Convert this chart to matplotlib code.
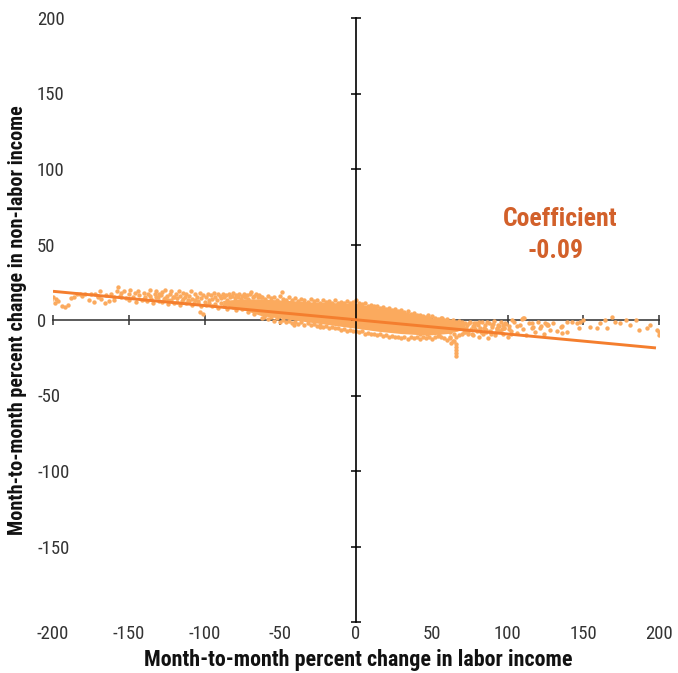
import matplotlib
matplotlib.use("Agg")
import matplotlib.pyplot as plt
from matplotlib import font_manager
import numpy as np

# pick a narrow sans if there is one
names = {f.name for f in font_manager.fontManager.ttflist}
for fam in ['Liberation Sans Narrow', 'Roboto Condensed', 'Open Sans', 'DejaVu Sans']:
    if fam in names:
        break
plt.rcParams['font.family'] = [fam, 'DejaVu Sans']
plt.rcParams['axes.unicode_minus'] = False

'''data read off the picture'''
fit_x = [-200, 198]
fit_y = [19.0, -18.5]

# solid core of the cloud
core_x = [-88, -75, -63, -45, -30, -15, 0, 15, 30, 47, 60, 72]
core_hi = [13, 14, 14, 13, 12, 11.5, 11, 8, 6, 2, 0, -2]
core_lo = [10, 7, 3, 0.5, -1.5, -3.5, -5.5, -7.5, -9, -10, -9, -6]

# sparse left end
left_x = [-201, -200, -199, -198, -197, -194, -192, -190, -188, -186, -184, -182, -181, -179,
          -176, -175, -173, -172, -170, -169, -168, -166, -165, -163, -162, -160, -158, -157,
          -156, -155, -153, -152, -150, -149, -147, -146, -144, -143, -141, -140, -139, -137,
          -136, -135, -133, -132, -131, -130, -129, -128, -127, -126, -125, -124, -123, -122,
          -121, -120, -119, -118, -117, -116, -115, -114, -113, -112, -111, -110, -109, -108,
          -107, -106, -105, -104, -103, -102, -101, -100, -103, -101,
          -140, -138, -136, -134, -132, -130, -128, -126, -124, -122, -120, -118, -116, -114,
          -112, -110, -108, -106, -104, -102, -145, -150, -155, -160, -170]
left_y = [13, 15, 11.5, 14, 12.5, 9.5, 8.5, 10, 14.5, 15, 17, 17.5, 16, 17.5,
          13.5, 17, 12, 17.5, 15, 19, 14, 11.5, 16.5, 12.5, 17, 15.5, 19.5, 22,
          16, 18, 19, 14.5, 17.5, 20, 15, 18, 19.5, 16.5, 13, 18, 15.5, 17,
          20, 14, 17.5, 19, 15, 12.5, 16.5, 18.5, 14, 20, 16, 13.5, 17.5, 19,
          15, 11.5, 17, 14.5, 19.5, 16, 12.5, 18, 15.5, 17.5, 13, 16, 19, 14,
          11, 17, 15, 12.5, 18, 14.5, 16.5, 12, 5.5, 4,
          14, 12.5, 16, 11, 15, 17, 12, 14.5, 10.5, 13, 15.5, 12, 10, 14,
          11.5, 12.5, 10, 13.5, 11, 9.5, 12, 13, 15, 13, 16]

# denser stretch before the core
mid_x = [-99, -98, -97, -96, -95, -94, -93, -92, -91, -90, -89, -88, -87, -86, -85, -84, -83,
         -82, -81, -80, -79, -78, -77, -76, -75, -74, -73, -72, -71, -70, -69, -68, -67, -66,
         -65, -64, -63,
         -99, -97, -95, -93, -91, -89, -87, -85, -83, -81, -79, -77, -75, -73, -71, -69, -67, -65]
mid_y = [15, 17, 13.5, 16.5, 14, 18, 15.5, 13, 17, 16, 14.5, 17.5, 15, 16.5, 13.5, 17, 15,
         16, 18, 14.5, 16.5, 15, 17.5, 14, 16, 17, 15.5, 16.5, 14, 17, 18.5, 15, 16, 17.5,
         15.5, 16.5, 15,
         10, 11.5, 9, 10.5, 8, 11, 9.5, 7.5, 10, 8.5, 6.5, 9, 7, 8, 5.5, 7.5, 4, 6]

# ragged upper and lower edge of the core
edge_x = list(range(-62, 73, 2))
edge_hi = [15.5, 14, 16, 14.5, 15, 13.5, 16, 14, 13.5, 15, 13, 14.5, 12.5, 14, 13, 12, 14, 12.5,
           13, 11.5, 13.5, 12, 12.5, 11.5, 13, 11.5, 12, 11, 12.5, 11, 12, 13.5, 11, 10.5,
           11, 9.5, 10, 9, 9.5, 8, 8.5, 7.5, 8, 6.5, 7.5, 6, 6.5, 5, 6, 4, 4.5, 3.5, 3, 2.5,
           2, 1.5, 2.5, 1, 0.5, 1.5, 0, 0.5, -0.5, 0, -1, -0.5, -1.5, -2]
edge_lo = [1.5, 3, 0.5, 2, -0.5, 1, -1, 0, -1.5, -0.5, -2, -1, -2.5, -1.5, -3, -2, -3.5, -2.5,
           -4, -3, -4.5, -4, -5, -4.5, -5.5, -5, -6.5, -6, -7, -6.5, -7.5, -7, -8, -7.5, -9,
           -8.5, -9.5, -9, -10, -9.5, -10.5, -10, -11, -10.5, -11.5, -11, -12, -11, -12.5,
           -11.5, -12, -11, -12.5, -11.5, -12, -11, -12.5, -11.5, -10.5, -11, -12, -13, -12,
           -14, -11, -10, -9, -8]

# odd points around the core
odd_x = [-49, -61, -41, -24, 47.5, 57, 65, 66, 66, 66, 66, 66, 62, 63]
odd_y = [18.5, 2, -3.3, -4.6, 3.3, 1.5, -14, -16, -18, -20, -22, -24, -11, -15]

# right side, thinning out
right_x = [73, 74, 75, 76, 77, 78, 79, 80, 81, 82, 83, 84, 85, 86, 87, 88, 89, 90, 91, 92, 93,
           94, 95, 96, 97, 98, 99, 100, 101, 102, 104, 106, 108, 110, 112, 114, 116, 118, 120,
           122, 124, 126, 128, 130, 133, 136, 139,
           72.5, 74.5, 76.5, 78.5, 80.5, 82.5, 84.5, 86.5, 88.5, 90.5, 92.5, 94.5, 96.5, 98.5,
           103, 109.5, 110.6, 116, 117, 121.7, 125, 127, 135, 136, 139, 142.6, 146, 147, 150,
           154.7, 159, 161, 164.6, 165.7, 169, 171, 174.5, 178, 181, 184.5, 186.6, 192, 194,
           198.8, 200, 200, 148, 126, 110,
           41, 43, 45, 47, 49, 51, 53, 55, 57, 59, 61, 63, 65, 67, 69, 71, 42, 46, 50, 54, 58,
           62, 66, 70, 74, 78, 82, 86, 90, 94, 98, 102, 106, 77, 81, 85, 89, 93, 97, 101]
right_y = [-3, -8, -1, -6, -10, -4, -2, -7, -11, -5, -1.5, -9, -3.5, -6.5, -12, -2, -8, -4.5,
           -0.5, -10, -6, -3, -7.5, -1, -9, -5, -2.5, -11, -4, -7, -1.5, -8.5, -3, -6, -10, -2,
           -5.5, -8, -1, -4, -9.5, -3, -6.5, -2, -7, -4, -1,
           -5, -2, -9, -6, -3, -8, -5.5, -1, -7, -2.5, -8, -4, -6, -2,
           0, 0.7, 1.1, -2.2, -4.4, -5.5, -2.2, -3.3, -4.4, -8.8, -7.7, -1.1, -2.2, -5.5, 0,
           -4.4, -5.5, -2.2, 0, -5.5, 2.2, -1.1, -2.2, 0, -3.3, 0, -6.6, -5.5, -3.3,
           -6.6, -10, -7.7, -1.5, -2.6, 1.3,
           -4, -7, -2, -9, -5, -8, -3, -10, -6, -1, -7, -4, -9, -5, -3, -8, -9, -6, -4, -7, -5,
           -8, -6, -4, -9, -2, -6, -8, -3, -7, -5, -9, -4, -4, -1, -6, -9, -5, -3, -6]

dot_color = '#FBAA5E'
line_color = '#F47E2E'

pts_x = left_x + mid_x + edge_x + edge_x + odd_x + right_x
pts_y = left_y + mid_y + edge_hi + edge_lo + odd_y + right_y

fig = plt.figure(figsize=(6.78, 6.73), dpi=100)
pos = [53 / 678, 51 / 673, 606 / 678, 604 / 673]
ax = fig.add_axes(pos)

ax.fill_between(core_x, core_lo, core_hi, color=dot_color, lw=0, zorder=2)
ax.scatter(pts_x, pts_y, s=10, color=dot_color, linewidths=0, zorder=2)
ax.plot(fit_x, fit_y, color=line_color, lw=2.1, zorder=4, solid_capstyle='butt')

ax.set_xlim(-200, 200)
ax.set_ylim(-200, 200)

# axes through the origin
for s in ['top', 'right']:
    ax.spines[s].set_visible(False)
ax.spines['left'].set_position('zero')
ax.spines['bottom'].set_position('zero')
ax.spines['left'].set_color('black')
ax.spines['left'].set_linewidth(1.2)
ax.spines['left'].set_zorder(3)
ax.spines['bottom'].set_color('#5a5a5a')
ax.spines['bottom'].set_linewidth(1.4)
ax.spines['bottom'].set_zorder(1)
ax.xaxis.set_zorder(1)
ax.yaxis.set_zorder(3)
ax.set_xticks(range(-200, 201, 50))
ax.set_yticks(range(-200, 201, 50))
ax.tick_params(axis='x', direction='inout', length=7.5, width=1.1, color='#333333',
               labelbottom=False)
ax.tick_params(axis='y', direction='inout', length=7.5, width=1.1, color='black',
               labelleft=False)
ax.patch.set_visible(False)

# tick labels along the outer edges
lab = fig.add_axes(pos, frameon=False)
lab.set_xlim(-200, 200)
lab.set_ylim(-200, 200)
lab.set_xticks(range(-200, 201, 50))
lab.set_yticks(range(-150, 201, 50))
lab.tick_params(axis='x', length=0, pad=2.5, labelsize=13.5, labelcolor='#333333')
lab.tick_params(axis='y', length=0, pad=11.5, labelsize=13.5, labelcolor='#333333')
for t in lab.get_yticklabels():
    t.set_ha('left')
lab.patch.set_visible(False)

fig.text(358 / 678, 1 - 660 / 673, 'Month-to-month percent change in labor income',
         ha='center', va='center', fontsize=15.8, fontweight='bold', color='#111111')
fig.text(18 / 678, 1 - 320 / 673, 'Month-to-month percent change in non-labor income',
         ha='center', va='center', rotation=90, fontsize=14.5, fontweight='bold', color='#111111')

ax.text(135, 67, 'Coefficient', ha='center', va='center', fontsize=18.5,
        fontweight='bold', color='#D2602A')
ax.text(132, 46, '-0.09', ha='center', va='center', fontsize=18.5,
        fontweight='bold', color='#D2602A')

plt.savefig('out.png', dpi=100)
